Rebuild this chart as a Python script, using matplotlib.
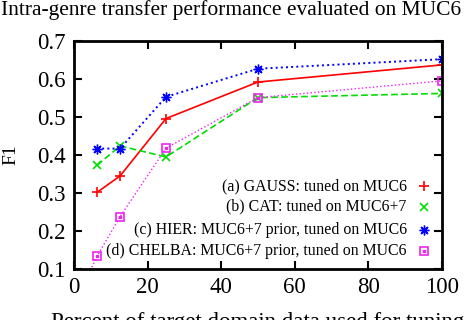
import matplotlib
matplotlib.use('Agg')
import matplotlib.pyplot as plt
import numpy as np

plt.rcParams['font.family'] = ['Liberation Serif', 'DejaVu Serif']

# percent of target domain data used for tuning
x = [6.25, 12.5, 25, 50, 100]
x_chelba = [3.125, 6.25, 12.5, 25, 50, 100]

gauss = [0.302, 0.345, 0.496, 0.592, 0.637]
cat = [0.373, 0.424, 0.395, 0.551, 0.562]
hier = [0.417, 0.417, 0.553, 0.627, 0.652]
chelba = [0.07, 0.134, 0.238, 0.418, 0.551, 0.595]

labels = ['(a) GAUSS: tuned on MUC6',
          '(b) CAT: tuned on MUC6+7',
          '(c) HIER: MUC6+7 prior, tuned on MUC6',
          '(d) CHELBA: MUC6+7 prior, tuned on MUC6']

red = '#ff0000'
green = '#00dd00'
blue = '#0000ff'
magenta = '#ee22ee'

fig = plt.figure(figsize=(4.66, 3.2), dpi=100)
ax = fig.add_axes([0.159, 0.159, 0.789, 0.713])

ax.plot(x, gauss, '-', color=red, lw=1.2, marker='+', ms=7, mew=1.2)
ax.plot(x, cat, '--', color=green, lw=1.2, marker='x', ms=6, mew=1.2, dashes=(4, 2))
ax.plot(x, hier, ':', color=blue, lw=1.4, marker=(8, 2, 0), ms=7, mew=1.0)
ax.plot(x_chelba, chelba, ':', color=magenta, lw=1.0, marker='s', ms=6,
        mfc='none', mew=1.2)
ax.plot(x_chelba, chelba, ls='none', color=magenta, marker='s', ms=1.5)

# gnuplot style key: text right aligned, marker to the right
key_y = [0.364, 0.273, 0.171, 0.079]
key_style = [dict(marker='+', ms=7, mew=1.2, color=red),
             dict(marker='x', ms=6, mew=1.2, color=green),
             dict(marker=(8, 2, 0), ms=7, mew=1.0, color=blue),
             dict(marker='s', ms=6, mew=1.2, mfc='none', color=magenta)]
for lab, yy, st in zip(labels, key_y, key_style):
    ax.text(0.905, yy, lab, transform=ax.transAxes, ha='right', va='center',
            fontsize=11.4)
    ax.plot([0.951], [yy], transform=ax.transAxes, ls='none', clip_on=False, **st)
ax.plot([0.951], [key_y[3]], transform=ax.transAxes, ls='none', marker='s',
        ms=1.5, color=magenta)

ax.set_xlim(0, 100)
ax.set_ylim(0.1, 0.7)
ax.set_xticks([0, 20, 40, 60, 80, 100])
ax.set_yticks([0.1, 0.2, 0.3, 0.4, 0.5, 0.6, 0.7])
ax.set_yticklabels(['0.1', '0.2', '0.3', '0.4', '0.5', '0.6', '0.7'])
ax.tick_params(direction='in', top=True, right=True, length=6, width=1.5,
               labelsize=16.5, pad=6)
for s in ax.spines.values():
    s.set_linewidth(2)

ax.set_ylabel('F1', fontsize=14)
ax.yaxis.set_label_coords(-0.15, 0.5)
ax.set_xlabel('Percent of target domain data used for tuning', fontsize=16.5,
              labelpad=10)
fig.suptitle('Intra-genre transfer performance evaluated on MUC6', fontsize=15.5,
             x=0.495, y=1.0)

fig.savefig('out.png', dpi=100)
